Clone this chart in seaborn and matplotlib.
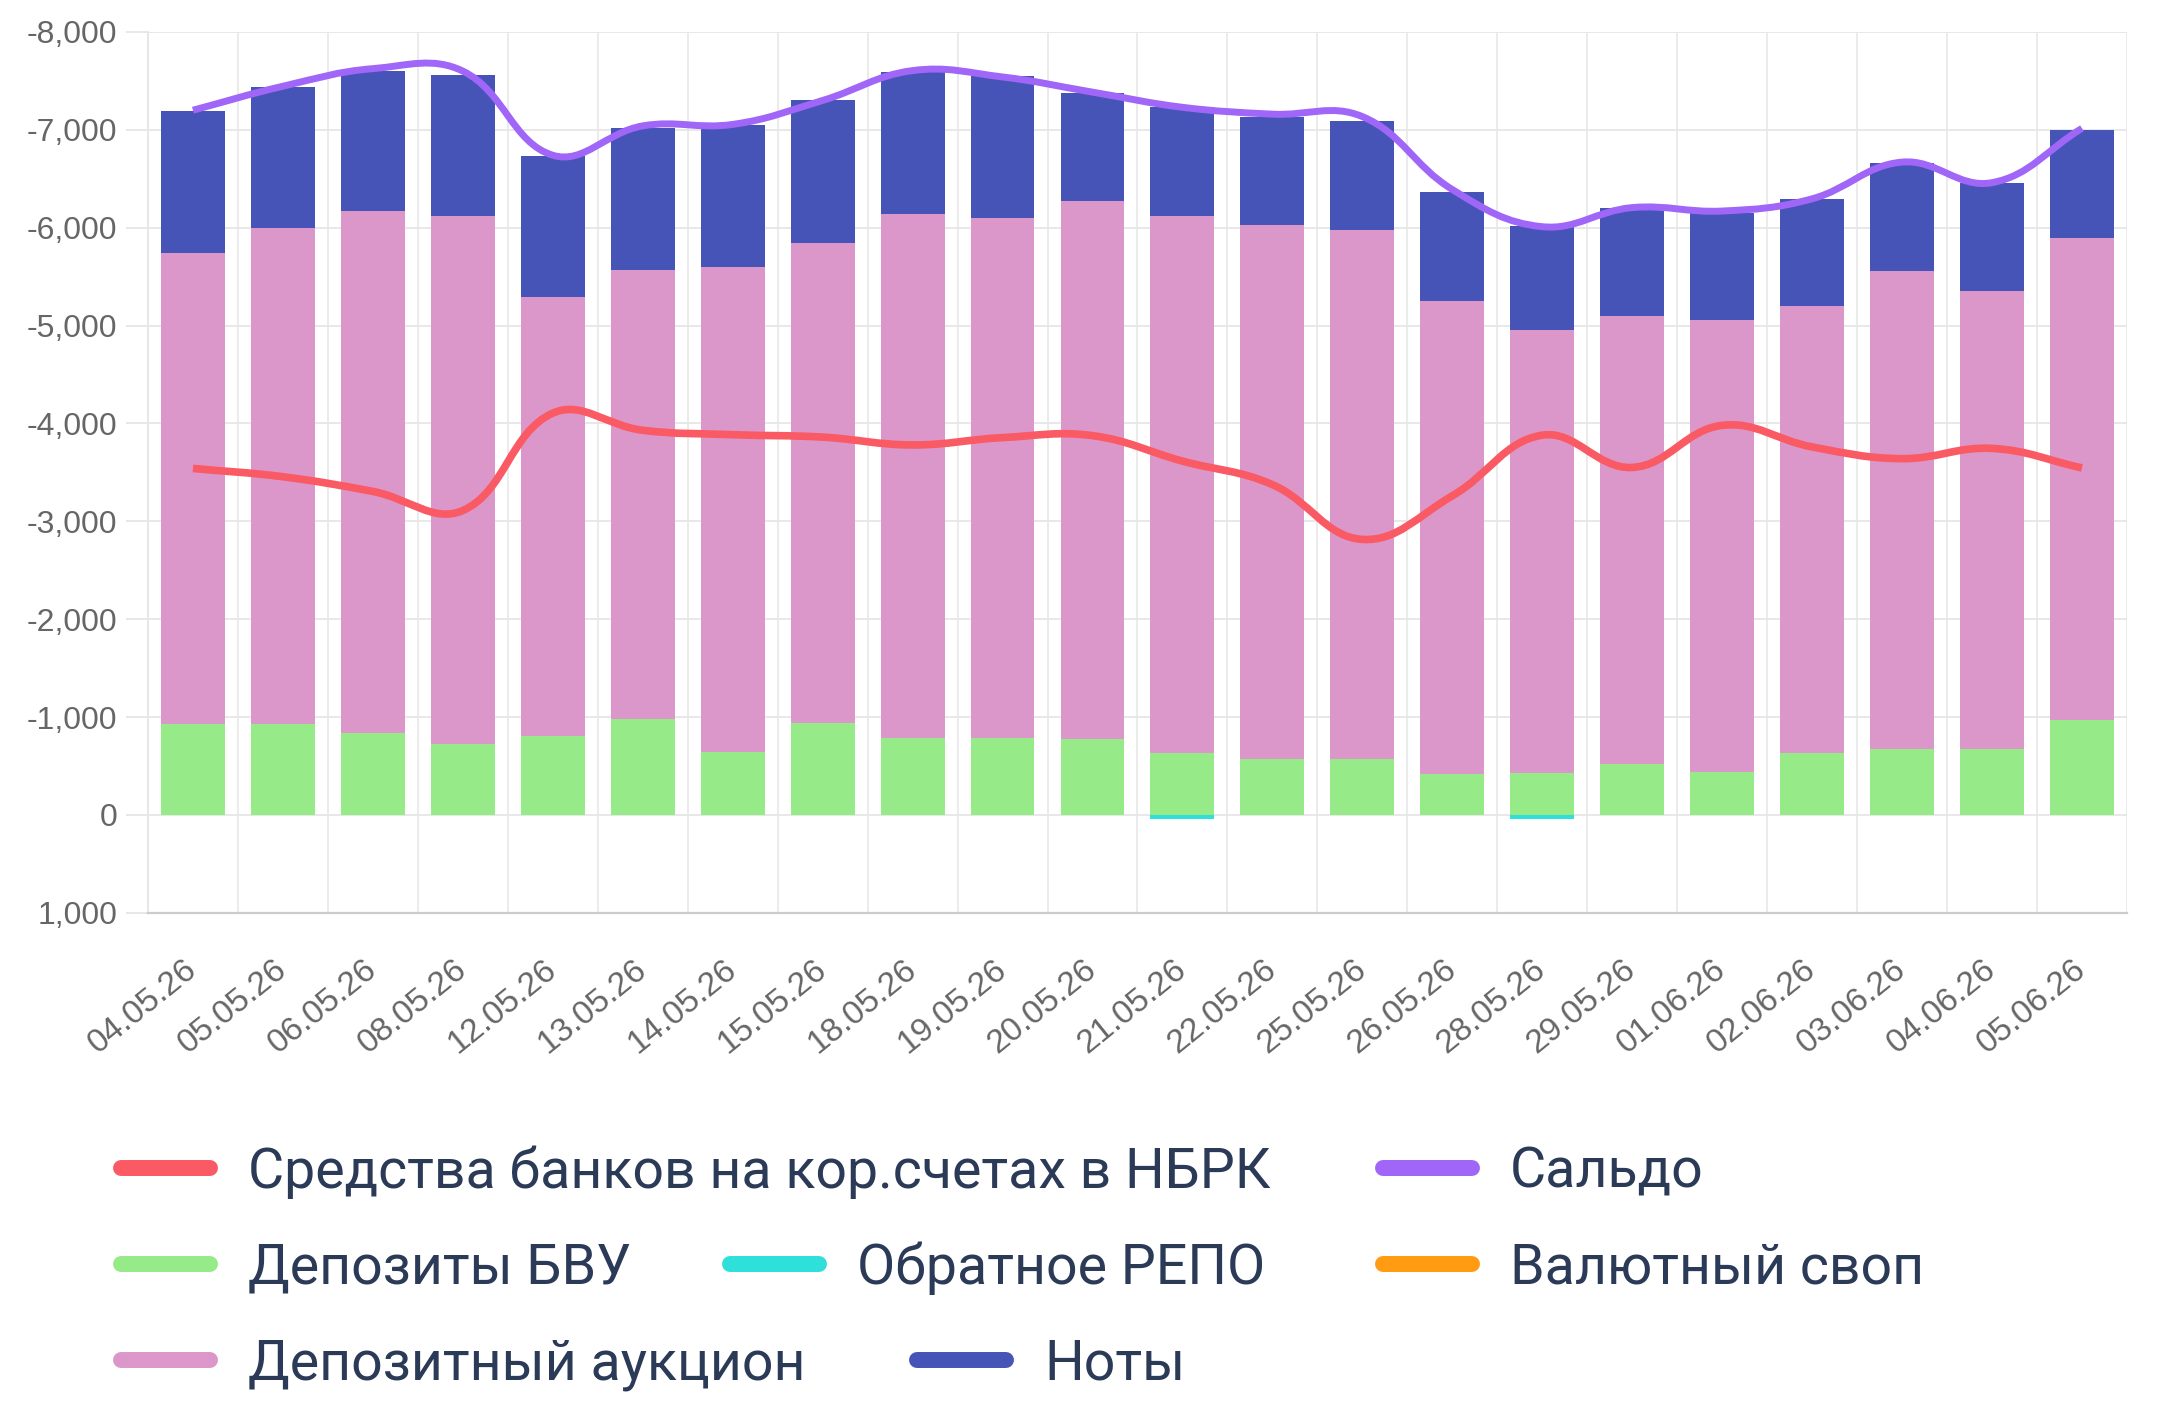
import numpy as np
import matplotlib
matplotlib.use("Agg")
import matplotlib.pyplot as plt
import seaborn as sns
from matplotlib.path import Path
from matplotlib.patches import PathPatch
from matplotlib.lines import Line2D
from matplotlib.ticker import FuncFormatter, MultipleLocator

# --- data (bln tenge, negative = absorption) ---
dates = ["04.05.26", "05.05.26", "06.05.26", "08.05.26", "12.05.26", "13.05.26",
         "14.05.26", "15.05.26", "18.05.26", "19.05.26", "20.05.26", "21.05.26",
         "22.05.26", "25.05.26", "26.05.26", "28.05.26", "29.05.26", "01.06.26",
         "02.06.26", "03.06.26", "04.06.26", "05.06.26"]

deposits_bvu = [-925, -925, -840, -720, -805, -980, -640, -940, -790, -790, -780,
                -630, -575, -570, -420, -430, -515, -440, -630, -670, -670, -965]
deposit_auction = [-4815, -5070, -5335, -5400, -4485, -4590, -4960, -4905, -5350,
                   -5310, -5495, -5490, -5455, -5410, -4835, -4520, -4585, -4620,
                   -4565, -4890, -4680, -4930]
notes = [-1455, -1445, -1430, -1440, -1445, -1445, -1450, -1455, -1450, -1445,
         -1105, -1115, -1105, -1105, -1105, -1065, -1100, -1090, -1100, -1105,
         -1105, -1105]
reverse_repo = [0, 0, 0, 0, 0, 0, 0, 0, 0, 0, 0, 40, 0, 0, 0, 40, 0, 0, 0, 0, 0, 0]
fx_swap = [0] * 22

bank_funds = [-3540, -3455, -3305, -3110, -4105, -3930, -3885, -3860, -3780, -3855,
              -3875, -3615, -3375, -2815, -3260, -3880, -3550, -3980, -3760, -3640,
              -3745, -3545]
saldo = [-7200, -7445, -7625, -7600, -6740, -7040, -7055, -7300, -7605, -7540,
         -7385, -7230, -7160, -7135, -6390, -6010, -6205, -6170, -6295, -6670,
         -6460, -7015]

C_RED = "#FA5A63"
C_PURPLE = "#A066F7"
C_GREEN = "#96EA87"
C_CYAN = "#2FDFDA"
C_ORANGE = "#FF9C12"
C_PINK = "#DC97CA"
C_BLUE = "#4654B7"
GRID = "#e6e6e6"
TICK_TXT = "#666666"
LEGEND_TXT = "#2B3A57"

sns.set_theme(style="white")
plt.rcParams["font.family"] = ["Liberation Sans", "DejaVu Sans"]


def spline_path(xs, ys, tension=0.4, sx=90.0, sy=0.098):
    """Chart.js-like smooth curve through the points (bezier control points
    computed in pixel-ish units so the curvature looks the same)."""
    px = np.asarray(xs, float) * sx
    py = np.asarray(ys, float) * sy
    n = len(px)
    cps = []
    for i in range(n):
        a, b = max(i - 1, 0), min(i + 1, n - 1)
        d01 = np.hypot(px[i] - px[a], py[i] - py[a])
        d12 = np.hypot(px[b] - px[i], py[b] - py[i])
        tot = d01 + d12
        fa = tension * (d01 / tot if tot else 0)
        fb = tension * (d12 / tot if tot else 0)
        dx, dy = px[b] - px[a], py[b] - py[a]
        cps.append(((px[i] - fa * dx, py[i] - fa * dy), (px[i] + fb * dx, py[i] + fb * dy)))
    verts = [(xs[0], ys[0])]
    codes = [Path.MOVETO]
    for i in range(1, n):
        c1, c2 = cps[i - 1][1], cps[i][0]
        verts += [(c1[0] / sx, c1[1] / sy), (c2[0] / sx, c2[1] / sy), (xs[i], ys[i])]
        codes += [Path.CURVE4] * 3
    return Path(verts, codes)


fig, ax = plt.subplots(figsize=(21.6, 14.01), dpi=100)
fig.subplots_adjust(left=0.0685, right=0.9847, top=0.9772, bottom=0.3485)

# stacked bars: draw cumulative totals, tallest first
lvl1 = np.array(deposits_bvu)
lvl2 = lvl1 + np.array(deposit_auction)
lvl3 = lvl2 + np.array(notes)
for vals, col in [(lvl3, C_BLUE), (lvl2, C_PINK), (lvl1, C_GREEN),
                  (reverse_repo, C_CYAN), (fx_swap, C_ORANGE)]:
    sns.barplot(x=dates, y=list(vals), color=col, width=0.71, saturation=1,
                linewidth=0, ax=ax, zorder=2)

xs = np.arange(len(dates))
for vals, col, lw in [(bank_funds, C_RED, 5.5), (saldo, C_PURPLE, 5.0)]:
    ax.add_patch(PathPatch(spline_path(xs, vals), fill=False, edgecolor=col,
                           lw=lw, capstyle="butt", zorder=5))

ax.set_xlim(-0.5, len(dates) - 0.5)
ax.set_ylim(1000, -8000)
ax.yaxis.set_major_locator(MultipleLocator(1000))
ax.yaxis.set_major_formatter(FuncFormatter(lambda v, _: f"{v:,.0f}"))
ax.set_xlabel("")
ax.set_ylabel("")

# category boundary grid lines (chart.js offset grid)
ax.set_xticks(np.arange(-0.5, len(dates)), minor=True)
ax.set_xticks(xs)
ax.set_xticklabels(dates)
ax.grid(which="minor", axis="x", color=GRID, lw=1.1, zorder=0)
ax.grid(which="major", axis="y", color=GRID, lw=1.3, zorder=0)
ax.grid(which="major", axis="x", visible=False)
ax.set_axisbelow(True)
ax.tick_params(axis="x", which="minor", length=15, width=1.1, color=GRID)
ax.tick_params(axis="x", which="major", length=0, pad=38, labelsize=24, labelcolor=TICK_TXT)
ax.tick_params(axis="y", which="major", length=16, width=1.3, color=GRID, pad=6,
               labelsize=23, labelcolor=TICK_TXT, left=True)
for lbl in ax.get_xticklabels():
    lbl.set_rotation(39)
    lbl.set_ha("right")
    lbl.set_va("center")
    lbl.set_rotation_mode("anchor")

for side in ["top", "right"]:
    ax.spines[side].set_visible(False)
ax.spines["left"].set_color(GRID)
ax.spines["left"].set_linewidth(1.3)
ax.spines["bottom"].set_color("#cccccc")
ax.spines["bottom"].set_linewidth(1.6)

# legend: chart.js flows the items in rows, so place each entry on its own
W, H = 2160, 1401
FS = 40
fs_px = FS * 100 / 72
legend_items = [
    ("Средства банков на кор.счетах в НБРК", C_RED, 113, 1172),
    ("Сальдо", C_PURPLE, 1375, 1172),
    ("Депозиты БВУ", C_GREEN, 113, 1268),
    ("Обратное РЕПО", C_CYAN, 722, 1268),
    ("Валютный своп", C_ORANGE, 1375, 1268),
    ("Депозитный аукцион", C_PINK, 113, 1364),
    ("Ноты", C_BLUE, 909, 1364),
]
for label, col, x0, y0 in legend_items:
    h = Line2D([0], [0], color=col, lw=11.5, solid_capstyle="round")
    fig.legend([h], [label], loc="center left",
               bbox_to_anchor=((x0 + 8) / W, 1 - y0 / H),
               frameon=False, borderpad=0, borderaxespad=0,
               handlelength=89 / fs_px, handletextpad=38 / fs_px,
               prop={"family": ["Roboto", "DejaVu Sans"], "size": FS},
               labelcolor=LEGEND_TXT)

fig.savefig("out.png", dpi=100)
